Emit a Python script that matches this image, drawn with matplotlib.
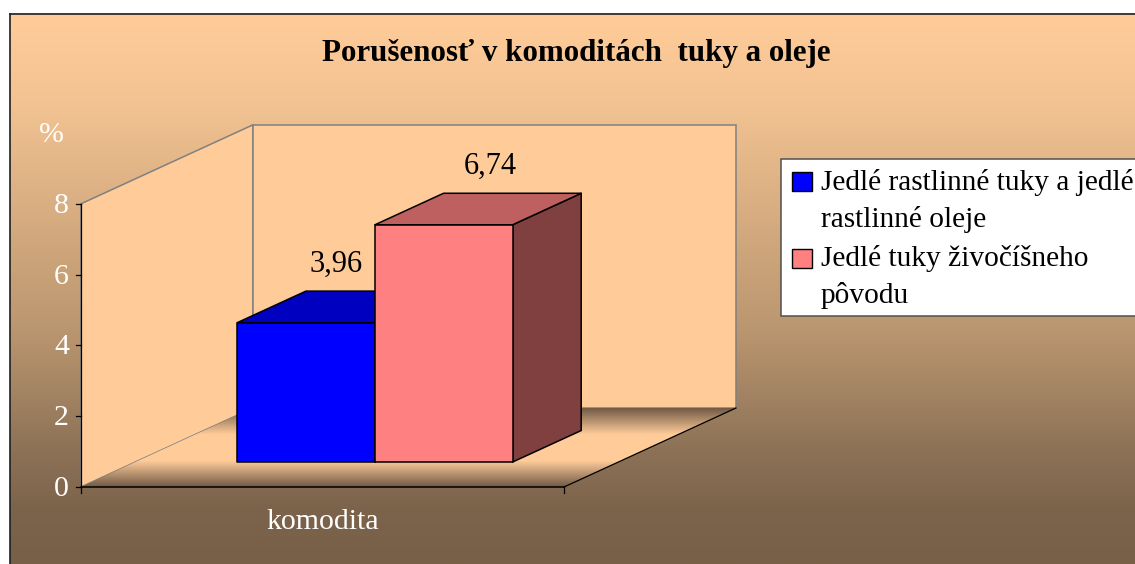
import numpy as np
import matplotlib
matplotlib.use('Agg')
import matplotlib.pyplot as plt
from matplotlib.colors import LinearSegmentedColormap
from matplotlib.patches import Polygon, Rectangle

plt.rcParams['font.family'] = ['Liberation Serif', 'DejaVu Serif']

title = 'Porušenosť v komoditách  tuky a oleje'
category = 'komodita'
unit = '%'
yticks = [0, 2, 4, 6, 8]
series_names = ['Jedlé rastlinné tuky a jedlé\nrastlinné oleje', 'Jedlé tuky živočíšneho\npôvodu']
values = [3.96, 6.74]

front_colors = ['#0000FF', '#FF8080']
top_colors = ['#0000C0', '#BF6060']
side_colors = ['#000080', '#804040']
label_shift = [-4, 12]

# pixel frame of the fake 3D box
X0, Y0 = 81, 487
BOX_W = 483
DEPTH_X, DEPTH_Y = 172, 79
PX_PER_UNIT = 35.2
WALL_PX_PER_UNIT = 35.4
YMAX = 8
BAR_W = 0.285
BAR_START = 0.211
BAR_D0, BAR_D1 = 0.316, 0.715


def project(u, d, v, scale=PX_PER_UNIT):
    return (X0 + BOX_W * u + DEPTH_X * d, Y0 - DEPTH_Y * d - scale * v)


def wall(u, d, v):
    return project(u, d, v, WALL_PX_PER_UNIT)


fig = plt.figure(figsize=(11.35, 5.64), dpi=100, facecolor='white')
ax = fig.add_axes([0, 0, 1, 1])

# chart area background
bg_cmap = LinearSegmentedColormap.from_list('bg', [(0, '#FFCC99'), (0.16, '#F3C392'), (0.59, '#B8946E'),
                                                   (0.80, '#8C7156'), (0.90, '#7C644C'), (1, '#786048')])
ax.imshow(np.linspace(0, 1, 256).reshape(-1, 1), cmap=bg_cmap, aspect='auto',
          extent=(9.5, 1135, 564, 13.5), zorder=0)
ax.plot([9.5, 9.5], [564, 13.5], color='#202020', lw=1.2, zorder=1)
ax.plot([9.5, 1135], [13.5, 13.5], color='#202020', lw=1.2, zorder=1)

# walls
left_wall = [wall(0, 0, 0), wall(0, 0, YMAX), wall(0, 1, YMAX), wall(0, 1, 0)]
back_wall = [wall(0, 1, 0), wall(0, 1, YMAX), wall(1, 1, YMAX), wall(1, 1, 0)]
for pts in [left_wall, back_wall]:
    ax.add_patch(Polygon(pts, facecolor='#FFCC99', edgecolor='#808080', lw=1.1, zorder=2))

# floor
floor_cmap = LinearSegmentedColormap.from_list('floor', ['#705A46', '#FFCC99', '#FFCC99', '#705A46'])
floor = Polygon([wall(0, 0, 0), wall(1, 0, 0), wall(1, 1, 0), wall(0, 1, 0)],
                facecolor='none', edgecolor='none', zorder=3)
ax.add_patch(floor)
floor_img = ax.imshow(np.linspace(0, 1, 256).reshape(-1, 1), cmap=floor_cmap, aspect='auto',
                      extent=(X0, X0 + BOX_W + DEPTH_X, Y0, Y0 - DEPTH_Y), zorder=3)
floor_img.set_clip_path(floor)

# axes lines and ticks
ax.plot(*zip(wall(0, 0, 0), wall(0, 0, YMAX)), color='black', lw=0.9, zorder=4)
ax.plot(*zip(wall(0, 0, 0), wall(1, 0, 0)), color='black', lw=1.1, zorder=4)
ax.plot(*zip(wall(1, 0, 0), wall(1, 1, 0)), color='black', lw=0.9, zorder=4)
for t in yticks:
    x, y = wall(0, 0, t)
    ax.plot([x - 5, x], [y, y], color='black', lw=0.9, zorder=4)
    ax.text(x - 12, y + 2, str(t), ha='right', va='center', color='white', fontsize=21.5, zorder=6)
for u in [0, 1]:
    x, y = wall(u, 0, 0)
    ax.plot([x, x], [y, y + 6], color='black', lw=0.9, zorder=4)

# bars
for i, v in enumerate(values):
    u0 = BAR_START + i * BAR_W
    u1 = u0 + BAR_W
    front = [project(u0, BAR_D0, 0), project(u1, BAR_D0, 0), project(u1, BAR_D0, v), project(u0, BAR_D0, v)]
    top = [project(u0, BAR_D0, v), project(u1, BAR_D0, v), project(u1, BAR_D1, v), project(u0, BAR_D1, v)]
    side = [project(u1, BAR_D0, 0), project(u1, BAR_D1, 0), project(u1, BAR_D1, v), project(u1, BAR_D0, v)]
    for pts, col in [(side, side_colors[i]), (top, top_colors[i]), (front, front_colors[i])]:
        ax.add_patch(Polygon(pts, facecolor=col, edgecolor='black', lw=1.1, joinstyle='round', zorder=5 + i * 0.1))
    lx, ly = project((u0 + u1) / 2, (BAR_D0 + BAR_D1) / 2, v)
    ax.text(lx + label_shift[i], ly - 43, f'{v:.2f}'.replace('.', ','), ha='center', va='center',
            color='black', fontsize=22, zorder=6)

ax.text(51, 135, unit, ha='center', va='center', color='white', fontsize=21.5, zorder=6)
ax.text(323, 522, category, ha='center', va='center', color='white', fontsize=21.5, zorder=6)
ax.text(576, 61, title, ha='center', va='baseline', color='black', fontsize=22.3, fontweight='bold', zorder=6)

# legend
ax.add_patch(Rectangle((781, 159), 360, 157, facecolor='white', edgecolor='#505050', lw=1.1, zorder=6))
for i, name in enumerate(series_names):
    ax.add_patch(Rectangle((792, 172 + i * 77), 20, 19, facecolor=front_colors[i], edgecolor='black', lw=1.0, zorder=7))
    # va='baseline' sits on the last line of the label
    ax.text(821, 227 + i * 76, name, ha='left', va='baseline', color='black', fontsize=21.2, linespacing=1.47, zorder=7)

ax.set_xlim(0, 1135)
ax.set_ylim(564, 0)
ax.axis('off')

plt.savefig('out.png', dpi=100)
